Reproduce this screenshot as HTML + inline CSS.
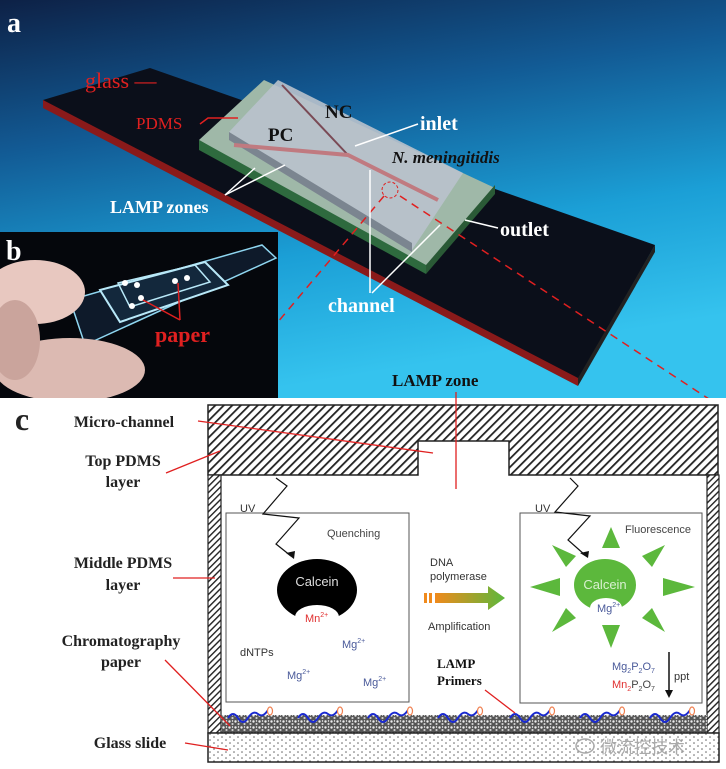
<!DOCTYPE html>
<html><head><meta charset="utf-8"><style>
html,body{margin:0;padding:0;background:#fff;}
svg{display:block;}
</style></head><body>
<svg width="726" height="769" viewBox="0 0 726 769" xmlns="http://www.w3.org/2000/svg" font-family="Liberation Sans, sans-serif">
<defs>
<linearGradient id="bg" x1="0" y1="0" x2="0.3" y2="1">
<stop offset="0" stop-color="#0d2146"/>
<stop offset="0.35" stop-color="#125a94"/>
<stop offset="0.7" stop-color="#1b9fd6"/>
<stop offset="1" stop-color="#35c3ee"/>
</linearGradient>
<pattern id="hatch" width="6" height="6" patternUnits="userSpaceOnUse" patternTransform="rotate(45)">
<rect width="6" height="6" fill="#fff"/><rect width="1.8" height="6" fill="#222"/>
</pattern>
<pattern id="hatch2" width="4.5" height="4.5" patternUnits="userSpaceOnUse" patternTransform="rotate(45)">
<rect width="4.5" height="4.5" fill="#fff"/><rect width="1.4" height="4.5" fill="#222"/>
</pattern>
<pattern id="paper" width="6" height="6" patternUnits="userSpaceOnUse">
<rect width="6" height="6" fill="#555"/><circle cx="1.5" cy="1.5" r="1.2" fill="#eee"/><circle cx="4.5" cy="4" r="1.1" fill="#ccc"/><circle cx="4.5" cy="1" r="0.7" fill="#fff"/>
</pattern>
<pattern id="dots" width="8" height="6" patternUnits="userSpaceOnUse">
<rect width="8" height="6" fill="#fff"/><circle cx="2" cy="2" r="0.8" fill="#666"/><circle cx="6" cy="5" r="0.8" fill="#666"/>
</pattern>
<linearGradient id="arr" x1="0" x2="1"><stop offset="0" stop-color="#f08a1c"/><stop offset="1" stop-color="#5cb83c"/></linearGradient>
</defs>

<rect x="0" y="0" width="726" height="398" fill="url(#bg)"/>
<polygon points="43,100 150,68 655,245 578,380 43,105" fill="#0b0f1a"/>
<polygon points="43,100 578,378 578,386 43,108" fill="#8a1a1a"/>
<polygon points="578,378 655,245 655,252 578,386" fill="#222"/>
<polygon points="199,140 264,80 495,188 426,272" fill="#9fb8a8"/>
<polygon points="199,140 426,265 426,274 199,150" fill="#2e6a3e"/>
<polygon points="426,265 495,185 495,194 426,274" fill="#2a5a36"/>
<polygon points="229,132 278,80 463,173 412,250" fill="#b9c2cc" opacity="0.9"/>
<polygon points="229,132 412,243 412,252 229,140" fill="#7b8590"/>
<line x1="282" y1="85" x2="348" y2="155" stroke="#7a4a55" stroke-width="2"/>
<polyline points="234,145 348,155 438,200" fill="none" stroke="#c07a80" stroke-width="4"/>
<circle cx="390" cy="190" r="8" fill="none" stroke="#e02020" stroke-dasharray="3,2"/>
<line x1="384" y1="196" x2="208" y2="405" stroke="#e02020" stroke-width="1.5" stroke-dasharray="8,6"/>
<line x1="400" y1="196" x2="718" y2="405" stroke="#e02020" stroke-width="1.5" stroke-dasharray="8,6"/>
<g font-family="Liberation Serif, serif" font-weight="bold">
<text x="7" y="32" font-size="28" fill="#fff">a</text>
<text x="85" y="88" font-size="22" fill="#e02020" font-weight="normal">glass —</text>
<text x="136" y="129" font-size="17" fill="#e02020" font-weight="normal">PDMS</text>
<polyline points="200,124 208,118 238,118" fill="none" stroke="#e02020" stroke-width="1.5"/>
<text x="325" y="118" font-size="19" fill="#111">NC</text>
<text x="268" y="141" font-size="19" fill="#111">PC</text>
<text x="420" y="130" font-size="20" fill="#fff">inlet</text>
<line x1="418" y1="124" x2="355" y2="146" stroke="#fff" stroke-width="1.5"/>
<text x="392" y="163" font-size="17" fill="#111" font-style="italic">N. meningitidis</text>
<text x="110" y="213" font-size="18" fill="#fff">LAMP zones</text>
<line x1="225" y1="195" x2="255" y2="168" stroke="#fff" stroke-width="1.5"/>
<line x1="225" y1="195" x2="285" y2="165" stroke="#fff" stroke-width="1.5"/>
<text x="500" y="236" font-size="20" fill="#fff">outlet</text>
<line x1="498" y1="228" x2="465" y2="220" stroke="#fff" stroke-width="1.5"/>
<text x="328" y="312" font-size="20" fill="#fff">channel</text>
<line x1="370" y1="293" x2="370" y2="170" stroke="#fff" stroke-width="1.5"/>
<line x1="372" y1="293" x2="440" y2="225" stroke="#fff" stroke-width="1.5"/>
<text x="392" y="386" font-size="17" fill="#111">LAMP zone</text>
</g>

<rect x="0" y="232" width="278" height="166" fill="#05070c"/>
<polygon points="70,300 262,245 276,258 85,345" fill="#0e1a2a" stroke="#8fd6f0" stroke-width="1.5"/>
<polygon points="100,290 205,262 228,285 120,322" fill="#13283c" stroke="#b8e8f8" stroke-width="2"/>
<polygon points="118,283 195,265 210,282 130,307" fill="none" stroke="#b8e8f8" stroke-width="1.5"/>
<circle cx="125" cy="283" r="3" fill="#fff"/><circle cx="137" cy="285" r="3" fill="#fff"/><circle cx="141" cy="298" r="3" fill="#fff"/><circle cx="175" cy="281" r="3" fill="#fff"/><circle cx="187" cy="278" r="3" fill="#fff"/><circle cx="132" cy="306" r="3" fill="#fff"/>
<ellipse cx="35" cy="292" rx="50" ry="32" fill="#e8c8c0"/>
<ellipse cx="70" cy="370" rx="75" ry="32" fill="#dcbab2"/>
<ellipse cx="15" cy="340" rx="25" ry="40" fill="#caa49c"/>
<line x1="143" y1="300" x2="180" y2="320" stroke="#e02020" stroke-width="1.5"/>
<line x1="178" y1="283" x2="180" y2="320" stroke="#e02020" stroke-width="1.5"/>
<text x="155" y="342" font-family="Liberation Serif, serif" font-weight="bold" font-size="22" fill="#e02020">paper</text>
<text x="6" y="260" font-family="Liberation Serif, serif" font-weight="bold" font-size="28" fill="#fff">b</text>

<rect x="0" y="398" width="726" height="371" fill="#fff"/>
<path d="M208,405 H718 V475 H509 V441 H418 V475 H208 Z" fill="url(#hatch)" stroke="#222" stroke-width="1.5"/>
<rect x="208" y="475" width="13" height="258" fill="url(#hatch2)" stroke="#222" stroke-width="1.2"/>
<rect x="707" y="475" width="12" height="258" fill="url(#hatch2)" stroke="#222" stroke-width="1.2"/>
<rect x="221" y="715" width="486" height="18" fill="url(#paper)"/>
<rect x="208" y="733" width="511" height="29" fill="url(#dots)" stroke="#222" stroke-width="1.5"/>
<rect x="226" y="513" width="183" height="189" fill="none" stroke="#555" stroke-width="1"/>
<rect x="520" y="513" width="182" height="190" fill="none" stroke="#555" stroke-width="1"/>
<path d="M276,478 L287,486 L263,514 L299,518 L276,544 L291,556" fill="none" stroke="#111" stroke-width="1.2"/>
<polygon points="294,559 286,553 295,551" fill="#111"/>
<ellipse cx="317" cy="590" rx="40" ry="31" fill="#000"/>
<ellipse cx="317" cy="617" rx="22" ry="12" fill="#fff"/>
<g font-size="11">
<text x="240" y="512" fill="#333">UV</text>
<text x="327" y="537" fill="#444">Quenching</text>
<text x="317" y="586" fill="#ddd" text-anchor="middle" font-size="13">Calcein</text>
<text x="305" y="622" fill="#e03030">Mn<tspan font-size="7" dy="-5">2+</tspan></text>
<text x="240" y="656" fill="#333">dNTPs</text>
<text x="342" y="648" fill="#4a5a9a">Mg<tspan font-size="7" dy="-5">2+</tspan></text>
<text x="287" y="679" fill="#4a5a9a">Mg<tspan font-size="7" dy="-5">2+</tspan></text>
<text x="363" y="686" fill="#4a5a9a">Mg<tspan font-size="7" dy="-5">2+</tspan></text>
<text x="430" y="566" fill="#333">DNA</text>
<text x="430" y="580" fill="#333">polymerase</text>
<text x="428" y="630" fill="#333">Amplification</text>
</g>
<rect x="424" y="593" width="3" height="10" fill="#f08a1c"/>
<rect x="429" y="593" width="3" height="10" fill="#f08a1c"/>
<polygon points="435,593 488,593 488,586 505,598 488,610 488,603 435,603" fill="url(#arr)"/>
<text x="437" y="668" font-family="Liberation Serif, serif" font-weight="bold" font-size="13" fill="#111">LAMP</text>
<text x="437" y="685" font-family="Liberation Serif, serif" font-weight="bold" font-size="13" fill="#111">Primers</text>
<path d="M570,478 L578,486 L555,512 L590,516 L568,540 L585,555" fill="none" stroke="#111" stroke-width="1.2"/>
<polygon points="588,558 580,553 589,551" fill="#111"/>
<g fill="#5cb83c">
<ellipse cx="605" cy="585" rx="31" ry="26"/>
<polygon points="611,527 602,548 620,548"/>
<polygon points="611,648 602,625 620,625"/>
<polygon points="530,587 560,578 560,596"/>
<polygon points="695,587 663,578 663,596"/>
<polygon points="552,545 576,556 566,567"/>
<polygon points="665,545 642,556 652,567"/>
<polygon points="552,632 576,618 566,608"/>
<polygon points="665,632 642,618 652,608"/>
</g>
<ellipse cx="606" cy="608" rx="16" ry="10" fill="#fff"/>
<g font-size="11">
<text x="535" y="512" fill="#333">UV</text>
<text x="625" y="533" fill="#444">Fluorescence</text>
<text x="605" y="589" fill="#d8f0d0" text-anchor="middle" font-size="13">Calcein</text>
<text x="597" y="612" fill="#4a5a9a">Mg<tspan font-size="7" dy="-5">2+</tspan></text>
<text x="612" y="670" fill="#4a5a9a">Mg<tspan font-size="7" dy="3">2</tspan><tspan dy="-3">P</tspan><tspan font-size="7" dy="3">2</tspan><tspan dy="-3">O</tspan><tspan font-size="7" dy="3">7</tspan></text>
<text x="612" y="688" fill="#e03030">Mn<tspan font-size="7" dy="3">2</tspan><tspan dy="-3" fill="#444">P</tspan><tspan font-size="7" dy="3" fill="#444">2</tspan><tspan dy="-3" fill="#444">O</tspan><tspan font-size="7" dy="3" fill="#444">7</tspan></text>
<text x="674" y="680" fill="#333">ppt</text>
</g>
<line x1="669" y1="652" x2="669" y2="692" stroke="#111" stroke-width="1.5"/>
<polygon points="665,690 673,690 669,698" fill="#111"/>
<g fill="none" stroke="#1a2ad0" stroke-width="2">
<path d="M228,718 q5,-8 10,0 t10,0 t10,-4 t10,-4"/>
<path d="M298,718 q5,-8 10,0 t10,0 t10,-4 t10,-4"/>
<path d="M368,718 q5,-8 10,0 t10,0 t10,-4 t10,-4"/>
<path d="M438,718 q5,-8 10,0 t10,0 t10,-4 t10,-4"/>
<path d="M510,718 q5,-8 10,0 t10,0 t10,-4 t10,-4"/>
<path d="M580,718 q5,-8 10,0 t10,0 t10,-4 t10,-4"/>
<path d="M650,718 q5,-8 10,0 t10,0 t10,-4 t10,-4"/>
</g>
<g fill="#fff" stroke="#f08050" stroke-width="1.2">
<ellipse cx="270" cy="711" rx="2.5" ry="4"/><ellipse cx="340" cy="711" rx="2.5" ry="4"/><ellipse cx="410" cy="711" rx="2.5" ry="4"/><ellipse cx="480" cy="711" rx="2.5" ry="4"/><ellipse cx="552" cy="711" rx="2.5" ry="4"/><ellipse cx="622" cy="711" rx="2.5" ry="4"/><ellipse cx="692" cy="711" rx="2.5" ry="4"/>
</g>
<g stroke="#e02020" stroke-width="1.3">
<line x1="456" y1="392" x2="456" y2="489"/>
<line x1="198" y1="421" x2="433" y2="453"/>
<line x1="166" y1="473" x2="220" y2="451"/>
<line x1="173" y1="578" x2="215" y2="578"/>
<line x1="165" y1="660" x2="230" y2="726"/>
<line x1="185" y1="743" x2="228" y2="750"/>
<line x1="485" y1="690" x2="515" y2="713"/>
</g>
<g font-family="Liberation Serif, serif" font-weight="bold" font-size="16" fill="#222" text-anchor="middle">
<text x="22" y="430" font-size="32">c</text>
<text x="124" y="427">Micro-channel</text>
<text x="123" y="466">Top PDMS</text>
<text x="123" y="487">layer</text>
<text x="123" y="568">Middle PDMS</text>
<text x="123" y="590">layer</text>
<text x="121" y="646">Chromatography</text>
<text x="121" y="667">paper</text>
<text x="130" y="748">Glass slide</text>
</g>
<text x="600" y="753" font-family="Liberation Sans, 'Noto Sans CJK SC', sans-serif" font-size="17" fill="#aaa">微流控技术</text>
<ellipse cx="585" cy="746" rx="9" ry="7" fill="none" stroke="#aaa" stroke-width="1.5"/>
</svg>
</body></html>
